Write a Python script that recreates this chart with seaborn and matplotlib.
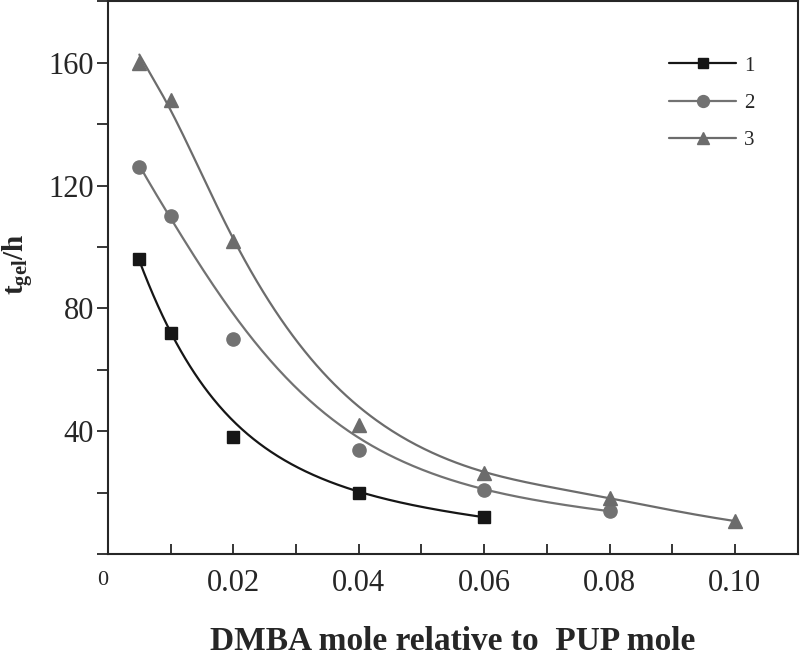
import numpy as np
import pandas as pd
import seaborn as sns
import matplotlib.pyplot as plt
from matplotlib.lines import Line2D
from matplotlib.ticker import MultipleLocator

# data
x1 = [0.005, 0.01, 0.02, 0.04, 0.06]
y1 = [96, 72, 38, 20, 12]
x2 = [0.005, 0.01, 0.02, 0.04, 0.06, 0.08]
y2 = [126, 110, 70, 34, 21, 14]
x3 = [0.005, 0.01, 0.02, 0.04, 0.06, 0.08, 0.10]
y3 = [160, 148, 102, 42, 26.5, 18.4, 10.7]
labels = ["1", "2", "3"]

# fit weights / stiffness for the smooth curves
w1 = [50, 50, 1, 1, 50]
w2 = [100, 100, 0.2, 1, 20, 20]
w3 = [50, 50, 50, 0.3, 20, 20, 20]
lams = [2.0, 3.0, 2.0]


def smooth_spline(x, y, lam, w, n=300):
    # weighted cubic smoothing spline (Reinsch form) on log(y), x in units of 0.01
    u = np.asarray(x) * 100
    y = np.log(np.asarray(y, float))
    m = len(u)
    h = np.diff(u)
    Q = np.zeros((m, m - 2))
    R = np.zeros((m - 2, m - 2))
    for j in range(1, m - 1):
        Q[j - 1, j - 1] = 1 / h[j - 1]
        Q[j, j - 1] = -1 / h[j - 1] - 1 / h[j]
        Q[j + 1, j - 1] = 1 / h[j]
        R[j - 1, j - 1] = (h[j - 1] + h[j]) / 3
        if j < m - 2:
            R[j - 1, j] = R[j, j - 1] = h[j] / 6
    K = Q @ np.linalg.solve(R, Q.T)
    W = np.diag(np.asarray(w, float))
    g = np.linalg.solve(W + lam * K, W @ y)
    gam = np.r_[0, np.linalg.solve(R, Q.T @ g), 0]
    uf = np.linspace(u[0], u[-1], n)
    i = np.clip(np.searchsorted(u, uf) - 1, 0, m - 2)
    a = uf - u[i]
    b = u[i + 1] - uf
    f = (a * g[i + 1] + b * g[i]) / h[i] - a * b / 6 * (
        (1 + a / h[i]) * gam[i + 1] + (1 + b / h[i]) * gam[i])
    return uf / 100, np.exp(f)


sns.set_style("ticks")
plt.rcParams['font.family'] = ['Liberation Serif', 'DejaVu Serif']
plt.rcParams['mathtext.fontset'] = 'custom'
plt.rcParams['mathtext.rm'] = 'Liberation Serif'
plt.rcParams['mathtext.bf'] = 'Liberation Serif:bold'

fig = plt.figure(figsize=(8, 6.58), dpi=100)
ax = fig.add_axes([0.135, 0.158, 0.862, 0.84])

series = [(x1, y1, w1, "#161616", "s", 8), (x2, y2, w2, "#727272", "o", 9.5),
          (x3, y3, w3, "#6c6c6c", "^", 10)]

for (xs, ys, w, col, mk, ms), lam in zip(series, lams):
    xf, yf = smooth_spline(xs, ys, lam, w)
    fit = pd.DataFrame({"x": xf, "y": yf})
    sns.lineplot(data=fit, x="x", y="y", color=col, lw=1.6, ax=ax)
    pts = pd.DataFrame({"x": xs, "y": ys})
    ax.plot(pts.x, pts.y, ls="none", marker=mk, ms=ms, color=col, zorder=5)

ax.set_xlim(0, 0.11)
ax.set_ylim(0, 180)
ax.set_xticks([0, 0.02, 0.04, 0.06, 0.08, 0.10])
ax.set_xticklabels(["", "0.02", "0.04", "0.06", "0.08", "0.10"])
ax.xaxis.set_minor_locator(MultipleLocator(0.01))
ax.set_yticks([40, 80, 120, 160])
ax.yaxis.set_minor_locator(MultipleLocator(20))
ax.tick_params(axis="x", which="both", direction="in", length=7, width=1.3, labelsize=22, pad=11)
ax.tick_params(axis="y", which="both", direction="out", length=8, width=1.3, labelsize=22, pad=2)
ax.annotate("0", xy=(0, 0), xycoords="axes fraction", xytext=(-4, -19), textcoords="offset points",
            ha="center", va="center", fontsize=16)
for s in ax.spines.values():
    s.set_linewidth(1.5)

ax.set_xlabel("DMBA mole relative to  PUP mole", fontsize=24, fontweight="bold", labelpad=20)
ax.set_ylabel(r"$\mathbf{t_{gel}}$/h", fontsize=21, fontweight="bold")
ax.yaxis.set_label_coords(-0.105, 0.525)

handles = [Line2D([], [], color=c, marker=m, ms=ms * 0.9, lw=1.6) for _, _, _, c, m, ms in series]
ax.legend(handles, labels, loc="upper right", bbox_to_anchor=(0.965, 0.935), frameon=False,
          fontsize=15, handlelength=3.2, labelspacing=0.85, handletextpad=0.4)

fig.savefig("out.png", dpi=100)
